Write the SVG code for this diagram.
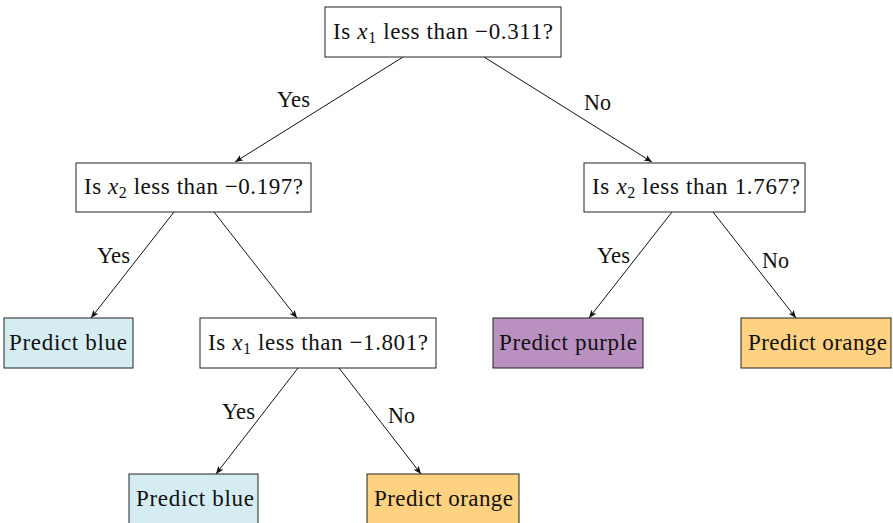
<svg xmlns="http://www.w3.org/2000/svg" width="893" height="523" viewBox="0 0 893 523">
<style>
.box{stroke:#222;stroke-width:1;}
.q{fill:#fff;}
.blue{fill:#d6ecf3;}
.purple{fill:#b990c0;}
.orange{fill:#fed281;}
text{font-family:"Liberation Serif","DejaVu Serif",serif;font-size:23px;fill:#111;}
.it{font-style:italic;}
.sub{font-size:16px;}
.edge{stroke:#111;stroke-width:1;fill:none;marker-end:url(#ah);}
</style>
<defs>
<marker id="ah" viewBox="0 0 10 10" refX="10" refY="5" markerWidth="8" markerHeight="8" markerUnits="userSpaceOnUse" orient="auto">
<path d="M0,1 L10,5 L0,9 L2.5,5 Z" fill="#111"/>
</marker>
</defs>
<g id="connectors">
<line class="edge" x1="403" y1="57" x2="235" y2="162"/>
<line class="edge" x1="484" y1="57" x2="652" y2="162"/>
<line class="edge" x1="174" y1="212" x2="91" y2="318"/>
<line class="edge" x1="214" y1="212" x2="297" y2="318"/>
<line class="edge" x1="672" y1="212" x2="589" y2="318"/>
<line class="edge" x1="713" y1="212" x2="796" y2="318"/>
<line class="edge" x1="298" y1="368" x2="216" y2="474"/>
<line class="edge" x1="339" y1="368" x2="421" y2="474"/>
<text x="277" y="107" textLength="33" lengthAdjust="spacingAndGlyphs">Yes</text>
<text x="584" y="110" textLength="27" lengthAdjust="spacingAndGlyphs">No</text>
<text x="97" y="263" textLength="33" lengthAdjust="spacingAndGlyphs">Yes</text>
<text x="597" y="263" textLength="33" lengthAdjust="spacingAndGlyphs">Yes</text>
<text x="762" y="268" textLength="27" lengthAdjust="spacingAndGlyphs">No</text>
<text x="222" y="419" textLength="33" lengthAdjust="spacingAndGlyphs">Yes</text>
<text x="388" y="423" textLength="27" lengthAdjust="spacingAndGlyphs">No</text>
</g>
<g id="root">
<rect class="box q" x="325" y="7" width="236" height="50"/>
<text x="333" y="39" textLength="220" lengthAdjust="spacing">Is <tspan class="it">x</tspan><tspan class="sub" dy="4">1</tspan><tspan dy="-4"> less than −0.311?</tspan></text>
</g>
<g id="left">
<rect class="box q" x="76" y="163" width="235" height="49"/>
<text x="84" y="194" textLength="219" lengthAdjust="spacing">Is <tspan class="it">x</tspan><tspan class="sub" dy="4">2</tspan><tspan dy="-4"> less than −0.197?</tspan></text>
</g>
<g id="right">
<rect class="box q" x="584" y="163" width="221" height="49"/>
<text x="592" y="194" textLength="208" lengthAdjust="spacing">Is <tspan class="it">x</tspan><tspan class="sub" dy="4">2</tspan><tspan dy="-4"> less than 1.767?</tspan></text>
</g>
<g id="leaf-blue-1">
<rect class="box blue" x="4" y="318" width="129" height="50"/>
<text x="9" y="350" textLength="118" lengthAdjust="spacing">Predict blue</text>
</g>
<g id="left-right">
<rect class="box q" x="200" y="318" width="236" height="50"/>
<text x="208" y="350" textLength="220" lengthAdjust="spacing">Is <tspan class="it">x</tspan><tspan class="sub" dy="4">1</tspan><tspan dy="-4"> less than −1.801?</tspan></text>
</g>
<g id="leaf-purple">
<rect class="box purple" x="493" y="318" width="150" height="50"/>
<text x="499" y="350" textLength="138" lengthAdjust="spacing">Predict purple</text>
</g>
<g id="leaf-orange-1">
<rect class="box orange" x="741" y="318" width="150" height="50"/>
<text x="748" y="350" textLength="139" lengthAdjust="spacing">Predict orange</text>
</g>
<g id="leaf-blue-2">
<rect class="box blue" x="129" y="474" width="129" height="52"/>
<text x="136" y="506" textLength="118" lengthAdjust="spacing">Predict blue</text>
</g>
<g id="leaf-orange-2">
<rect class="box orange" x="367" y="474" width="152" height="52"/>
<text x="374" y="506" textLength="139" lengthAdjust="spacing">Predict orange</text>
</g>
</svg>
